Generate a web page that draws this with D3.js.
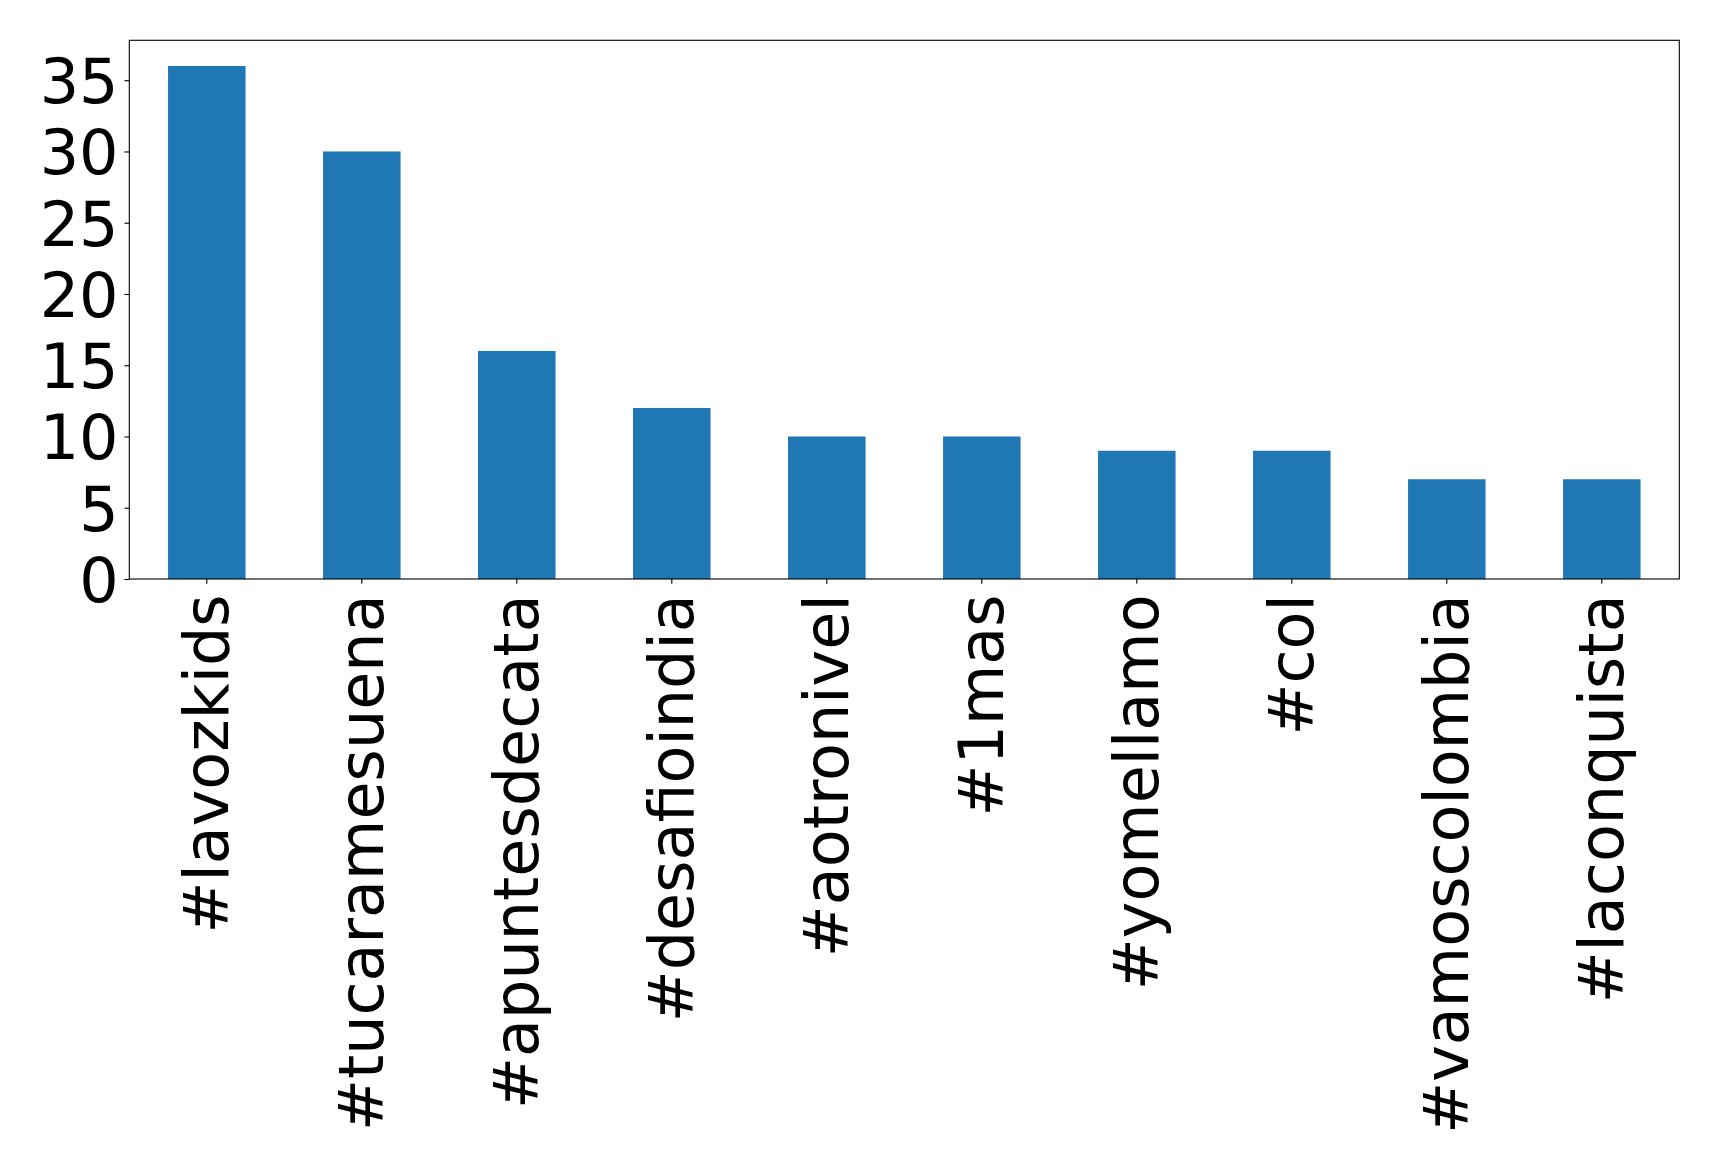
<!DOCTYPE html>
<html>
<head>
<meta charset="utf-8">
<script src="https://cdn.jsdelivr.net/npm/d3@7/dist/d3.min.js"></script>
<style>
  html, body { margin: 0; padding: 0; background: #fff; }
  svg { display: block; }
  text { font-family: "DejaVu Sans", sans-serif; }
</style>
</head>
<body>
<div id="chart"></div>
<script>
const categories = ["#lavozkids", "#tucaramesuena", "#apuntesdecata", "#desafioindia", "#aotronivel", "#1mas", "#yomellamo", "#col", "#vamoscolombia", "#laconquista"];
const counts = [36, 30, 16, 12, 10, 10, 9, 9, 7, 7];
const yTicks = [0, 5, 10, 15, 20, 25, 30, 35];

const W = 1719, H = 1172;
const margin = { left: 129.3, top: 40.3, right: W - 1679.3, bottom: H - 579 };
const iw = W - margin.left - margin.right;
const ih = H - margin.top - margin.bottom;
const fontSize = 62;
const tickLen = 4.86;
const pad = 4.86;
const xPad = 10.5;

const svg = d3.select("#chart").append("svg").attr("width", W).attr("height", H);
const g = svg.append("g").attr("transform", `translate(${margin.left},${margin.top})`);

const x = d3.scaleBand().domain(categories).range([0, iw]).paddingInner(0.5).paddingOuter(0.25);
const y = d3.scaleLinear().domain([0, d3.max(counts) * 1.05]).range([ih, 0]);

g.selectAll("rect.bar").data(categories).join("rect")
  .attr("class", "bar")
  .attr("x", d => x(d))
  .attr("width", x.bandwidth())
  .attr("y", (d, i) => y(counts[i]))
  .attr("height", (d, i) => ih - y(counts[i]))
  .attr("fill", "#1f77b4");

const yAxis = g.append("g").call(d3.axisLeft(y).tickValues(yTicks).tickSize(tickLen).tickPadding(pad + 1).tickFormat(d3.format("d")));
yAxis.select(".domain").remove();
yAxis.selectAll("line").attr("stroke", "#000").attr("stroke-width", 1.1);
yAxis.selectAll("text").attr("font-size", fontSize).attr("font-family", "DejaVu Sans").attr("fill", "#000").attr("dy", "0.36em");

const xAxis = g.append("g").attr("transform", `translate(0,${ih})`)
  .call(d3.axisBottom(x).tickSize(tickLen).tickPadding(pad));
xAxis.select(".domain").remove();
xAxis.selectAll("line").attr("stroke", "#000").attr("stroke-width", 1.1);
xAxis.selectAll("text")
  .attr("font-size", fontSize).attr("font-family", "DejaVu Sans").attr("fill", "#000")
  .attr("text-anchor", "end")
  .attr("dominant-baseline", "central")
  .attr("dy", null)
  .attr("y", 0)
  .attr("transform", `translate(0,${tickLen + xPad}) rotate(-90)`);

g.append("rect").attr("x", 0).attr("y", 0).attr("width", iw).attr("height", ih)
  .attr("fill", "none").attr("stroke", "#000").attr("stroke-width", 1.1);
</script>
</body>
</html>
